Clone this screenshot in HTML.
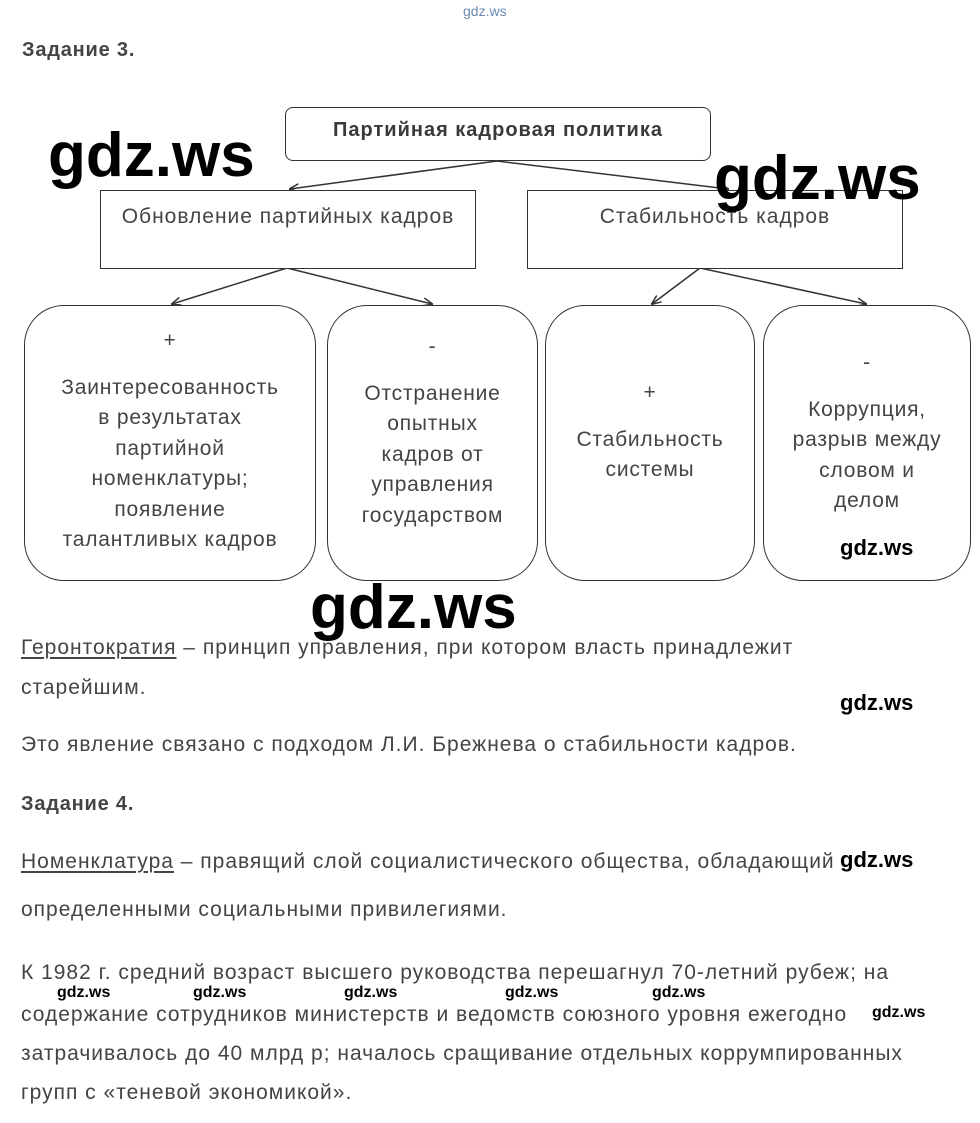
<!DOCTYPE html>
<html><head><meta charset="utf-8"><style>
body{margin:0;width:980px;height:1123px;background:#fff;position:relative;overflow:hidden;font-family:"Liberation Sans",Arial,sans-serif;color:#3a3a3a}
.a{position:absolute;white-space:nowrap}
.t{font-size:21px;letter-spacing:1px;color:#444}
.box{position:absolute;border:1.5px solid #333;box-sizing:border-box;background:#fff}
.rb{position:absolute;border:1.5px solid #333;border-radius:40px;box-sizing:border-box;text-align:center;font-size:21px;letter-spacing:0.8px;line-height:30.5px;color:#444;background:#fff}
.wm{position:absolute;font-weight:bold;color:#000;white-space:nowrap;font-family:"Liberation Sans",sans-serif;letter-spacing:0}
.big{font-size:62px}
.sm{font-size:22px}
.xs{font-size:16px}
u{text-decoration:underline;text-underline-offset:3px}
</style></head><body>
<div class="a" style="left:463px;top:3px;font-size:14px;color:#6a8bb5">gdz.ws</div>
<div class="a t" style="left:22px;top:39px;font-weight:bold;font-size:20px;letter-spacing:0.8px">Задание 3.</div>

<svg style="position:absolute;left:0;top:0" width="980" height="600">
<defs><marker id="m" markerWidth="10" markerHeight="10" refX="9" refY="5" orient="auto" markerUnits="userSpaceOnUse"><path d="M0,1 L10,5 L0,9" fill="none" stroke="#333" stroke-width="1.5"/></marker></defs>
<g stroke="#333" stroke-width="1.5" fill="none">
<line x1="497" y1="161" x2="290" y2="189" marker-end="url(#m)"/>
<line x1="497" y1="161" x2="728" y2="189" marker-end="url(#m)"/>
<line x1="287" y1="268" x2="172" y2="304" marker-end="url(#m)"/>
<line x1="287" y1="268" x2="432" y2="304" marker-end="url(#m)"/>
<line x1="700" y1="268" x2="652" y2="304" marker-end="url(#m)"/>
<line x1="700" y1="268" x2="866" y2="304" marker-end="url(#m)"/>
</g></svg>

<div class="box" style="left:285px;top:107px;width:426px;height:54px;border-radius:8px;text-align:center;font-weight:bold;font-size:20px;letter-spacing:1px;padding-top:11px">Партийная кадровая политика</div>
<div class="box" style="left:100px;top:190px;width:376px;height:79px;text-align:center;font-size:21px;letter-spacing:1px;padding-top:14px;color:#444">Обновление партийных кадров</div>
<div class="box" style="left:527px;top:190px;width:376px;height:79px;text-align:center;font-size:21px;letter-spacing:1px;padding-top:14px;color:#444">Стабильность кадров</div>

<div class="rb" style="left:24px;top:305px;width:292px;height:276px;padding-top:20px">+<br><div style="height:16px"></div>Заинтересованность<br>в результатах<br>партийной<br>номенклатуры;<br>появление<br>талантливых кадров</div>
<div class="rb" style="left:327px;top:305px;width:211px;height:276px;padding-top:26px">-<br><div style="height:16px"></div>Отстранение<br>опытных<br>кадров от<br>управления<br>государством</div>
<div class="rb" style="left:545px;top:305px;width:210px;height:276px;padding-top:72px">+<br><div style="height:16px"></div>Стабильность<br>системы</div>
<div class="rb" style="left:763px;top:305px;width:208px;height:276px;padding-top:42px">-<br><div style="height:16px"></div>Коррупция,<br>разрыв между<br>словом и<br>делом</div>

<div class="wm big" style="left:48px;top:120px">gdz.ws</div>
<div class="wm big" style="left:714px;top:143px">gdz.ws</div>
<div class="wm big" style="left:310px;top:572px">gdz.ws</div>
<div class="wm sm" style="left:840px;top:535px">gdz.ws</div>
<div class="wm sm" style="left:840px;top:690px">gdz.ws</div>
<div class="wm sm" style="left:840px;top:847px">gdz.ws</div>

<div class="a t" style="left:21px;top:636px"><u>Геронтократия</u> – принцип управления, при котором власть принадлежит</div>
<div class="a t" style="left:21px;top:676px">старейшим.</div>
<div class="a t" style="left:21px;top:733px">Это явление связано с подходом Л.И. Брежнева о стабильности кадров.</div>
<div class="a t" style="left:21px;top:793px;font-weight:bold;font-size:20px;letter-spacing:0.8px">Задание 4.</div>
<div class="a t" style="left:21px;top:850px"><u>Номенклатура</u> – правящий слой социалистического общества, обладающий</div>
<div class="a t" style="left:21px;top:898px">определенными социальными привилегиями.</div>
<div class="a t" style="left:21px;top:961px">К 1982 г. средний возраст высшего руководства перешагнул 70-летний рубеж; на</div>
<div class="a t" style="left:21px;top:1003px">содержание сотрудников министерств и ведомств союзного уровня ежегодно</div>
<div class="a t" style="left:21px;top:1042px">затрачивалось до 40 млрд р; началось сращивание отдельных коррумпированных</div>
<div class="a t" style="left:21px;top:1081px">групп с «теневой экономикой».</div>

<div class="wm xs" style="left:57px;top:984px">gdz.ws</div>
<div class="wm xs" style="left:193px;top:984px">gdz.ws</div>
<div class="wm xs" style="left:344px;top:984px">gdz.ws</div>
<div class="wm xs" style="left:505px;top:984px">gdz.ws</div>
<div class="wm xs" style="left:652px;top:984px">gdz.ws</div>
<div class="wm xs" style="left:872px;top:1004px">gdz.ws</div>
</body></html>
